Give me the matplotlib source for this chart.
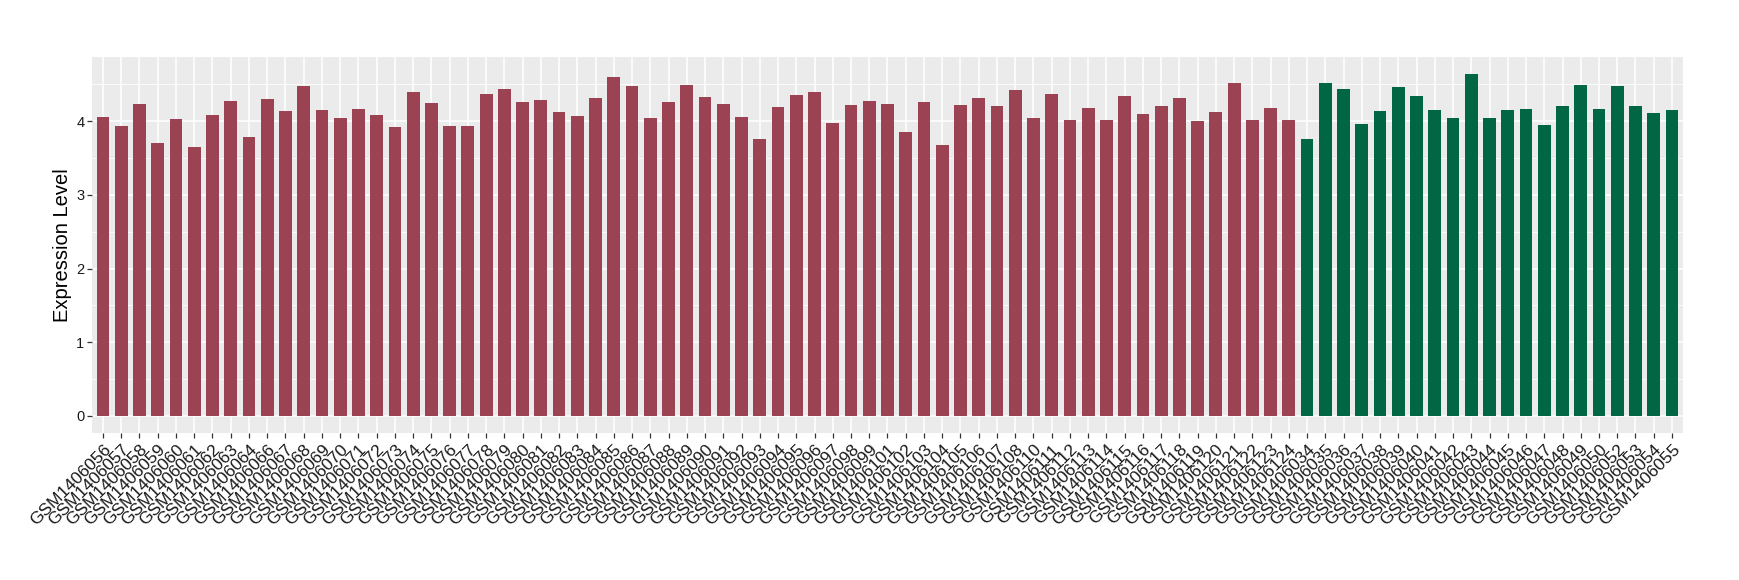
import matplotlib
matplotlib.use("Agg")
import matplotlib.pyplot as plt
import matplotlib.transforms as mtransforms
from matplotlib.ticker import MultipleLocator

# sample ids (GSM14060xx / GSM14061xx) per group, in plotted order
red_ids = ["056", "057", "058", "059", "060", "061", "062", "063", "064",
           "066", "067", "068", "069", "070", "071", "072", "073", "074",
           "075", "076", "077", "078", "079", "080", "081", "082", "083",
           "084", "085", "086", "087", "088", "089", "090", "091", "092",
           "093", "094", "095", "096", "097", "098", "099", "101", "102",
           "103", "104", "105", "106", "107", "108", "110", "111", "112",
           "113", "114", "115", "116", "117", "118", "119", "120", "121",
           "122", "123", "124"]
red_values = [4.06, 3.94, 4.24, 3.71, 4.03, 3.65, 4.09, 4.28, 3.79,
              4.30, 4.14, 4.48, 4.15, 4.05, 4.17, 4.09, 3.92, 4.40,
              4.25, 3.94, 3.94, 4.37, 4.44, 4.26, 4.29, 4.13, 4.07,
              4.32, 4.60, 4.48, 4.05, 4.26, 4.49, 4.33, 4.24, 4.06,
              3.76, 4.19, 4.36, 4.40, 3.98, 4.22, 4.28, 4.24, 3.86,
              4.26, 3.68, 4.22, 4.32, 4.21, 4.43, 4.05, 4.37, 4.02,
              4.18, 4.02, 4.34, 4.10, 4.21, 4.32, 4.00, 4.13, 4.52,
              4.02, 4.18, 4.02]

green_ids = ["034", "035", "036", "037", "038", "039", "040", "041", "042",
             "043", "044", "045", "046", "047", "048", "049", "050", "052",
             "053", "054", "055"]
green_values = [3.76, 4.52, 4.44, 3.96, 4.14, 4.47, 4.34, 4.15, 4.05,
                4.64, 4.05, 4.15, 4.17, 3.95, 4.21, 4.49, 4.17, 4.48,
                4.21, 4.11, 4.15]

red_color = "#9B4352"
green_color = "#006643"

labels = ["GSM1406" + s for s in red_ids + green_ids]
values = red_values + green_values
colors = [red_color] * len(red_ids) + [green_color] * len(green_ids)

plt.rcParams['font.family'] = ['Liberation Sans', 'DejaVu Sans']

fig = plt.figure(figsize=(17.4, 5.8), dpi=100)
ax = fig.add_axes([0.0529, 0.2534, 0.9143, 0.6483])

x = list(range(len(values)))
ax.bar(x, values, width=0.7, color=colors, zorder=3)

# ggplot-like panel
ax.set_facecolor("#EBEBEB")
for side in ax.spines.values():
    side.set_visible(False)
ax.set_xlim(-0.6, len(values) - 1 + 0.6)
vmax = max(values)
ax.set_ylim(-0.05 * vmax, vmax * 1.05)

ax.yaxis.set_major_locator(MultipleLocator(1))
ax.yaxis.set_minor_locator(MultipleLocator(0.5))
ax.grid(which="major", axis="both", color="white", linewidth=1.1, zorder=0)
ax.grid(which="minor", axis="y", color="white", linewidth=0.55, zorder=0)
ax.set_axisbelow(True)

ax.set_xticks(x)
ax.set_xticklabels(labels, rotation=45, ha="right", va="top",
                   rotation_mode="anchor", fontsize=12.5, color="#1A1A1A")
# ggplot puts the end of the rotated label a little right of the tick
shift = mtransforms.ScaledTranslation(6 / 100, -3 / 100, fig.dpi_scale_trans)
for lab in ax.get_xticklabels():
    lab.set_transform(lab.get_transform() + shift)
ax.tick_params(axis="x", which="major", length=3.5, width=0.9,
               color="#333333", pad=3)
ax.tick_params(axis="y", which="major", length=3.5, width=0.9,
               color="#333333", pad=2, labelsize=10.5, labelcolor="#1A1A1A")
ax.tick_params(axis="y", which="minor", length=0)

ax.set_ylabel("Expression Level", fontsize=14.5, labelpad=3)

fig.savefig("out.png", dpi=100)
